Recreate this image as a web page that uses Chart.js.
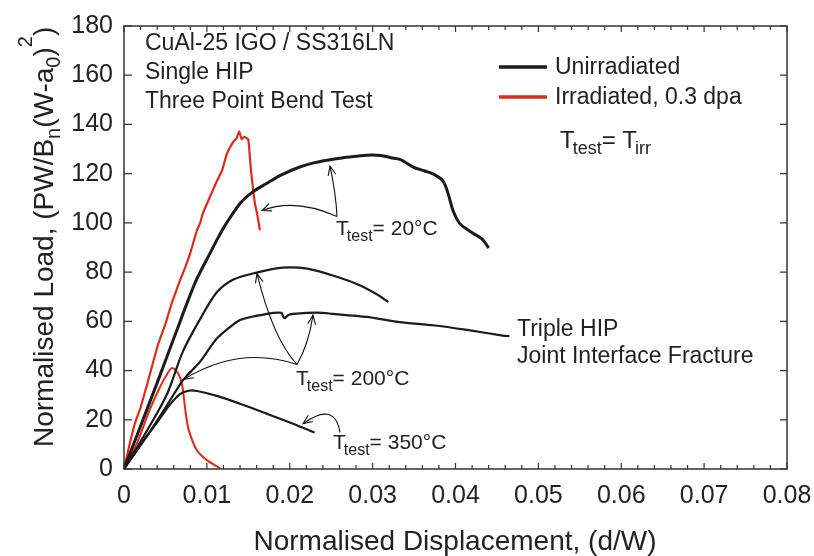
<!DOCTYPE html>
<html>
<head>
<meta charset="utf-8">
<script src="https://cdn.jsdelivr.net/npm/chart.js@4.4.1/dist/chart.umd.min.js"></script>
<style>
  body { margin: 0; background: #fff; }
  canvas { display: block; }
</style>
</head>
<body>
<canvas id="chart" width="814" height="556"></canvas>
<script>
const FONT = '"Liberation Sans", Arial, sans-serif';
const TEXT = '#222';
const BLACK = '#1b1b1b';
const RED = '#dd2a1b';

// Unirradiated, T = 20°C (thick black)
const u20Disp = [0, 0.002, 0.004, 0.006, 0.0086, 0.0104, 0.0112, 0.0122, 0.014, 0.0155, 0.0172, 0.019, 0.0212, 0.023, 0.0252, 0.0272, 0.0293, 0.031, 0.0322, 0.0333, 0.0349, 0.0362, 0.0373, 0.0385, 0.0391, 0.0397, 0.0405, 0.0421, 0.0432, 0.044];
const u20Load = [0, 17.5, 35, 53, 75.8, 87.8, 93, 99, 107.9, 112.5, 116, 119.5, 122.7, 124.5, 125.9, 126.8, 127.5, 127.4, 126.5, 125.8, 122.7, 121.2, 119.9, 117, 112, 105, 99.8, 95.8, 93.5, 89.8];

// Unirradiated, T = 200°C, upper curve
const u200aDisp = [0, 0.0031, 0.0052, 0.0071, 0.0092, 0.0112, 0.0132, 0.016, 0.0192, 0.0221, 0.0252, 0.0285, 0.0305, 0.0319];
const u200aLoad = [0, 17.5, 30.5, 47.7, 61, 71.8, 77, 79.8, 81.8, 81.4, 78.6, 74.6, 71, 67.8];

// Unirradiated, T = 200°C, triple HIP curve
const u200bDisp = [0, 0.0031, 0.0052, 0.0071, 0.0092, 0.0112, 0.014, 0.0172, 0.019, 0.0192, 0.0194, 0.0198, 0.0204, 0.0233, 0.0253, 0.0293, 0.0333, 0.0373, 0.0414, 0.0457, 0.0465];
const u200bLoad = [0, 15, 26, 36, 43.7, 53, 60.5, 63, 63.5, 62, 61.3, 62.5, 63, 63.5, 63, 61.8, 59.7, 58.4, 56.5, 54.2, 54];

// Unirradiated, T = 350°C
const u350Disp = [0, 0.002, 0.004, 0.0055, 0.0068, 0.0078, 0.0088, 0.0112, 0.014, 0.0172, 0.0204, 0.023];
const u350Load = [0, 10, 19, 26, 30.5, 31.8, 31.7, 29.7, 26.5, 22.5, 18.4, 14.8];

// Irradiated 0.3 dpa, T = 20°C
const i20Disp = [0, 0.0007, 0.0013, 0.002, 0.0028, 0.0034, 0.0041, 0.005, 0.0058, 0.0068, 0.0074, 0.008, 0.0088, 0.0092, 0.0095, 0.0103, 0.0112, 0.0118, 0.0124, 0.0132, 0.0136, 0.0139, 0.0142, 0.0145, 0.015, 0.0153, 0.0156, 0.0158, 0.0161, 0.0164];
const i20Load = [0, 10.4, 18.4, 25, 34.5, 42, 50.5, 59, 67.8, 77, 82, 87.8, 97, 100, 103.8, 110, 117, 121, 127.9, 133, 134.5, 137.2, 134, 135, 133.9, 122, 113, 107.9, 103, 97];

// Irradiated 0.3 dpa, T = 200°C
const i200Disp = [0, 0.0015, 0.0031, 0.0043, 0.0052, 0.0058, 0.0065, 0.007, 0.0074, 0.0078, 0.0088, 0.01, 0.0116];
const i200Load = [0, 10, 24, 33, 38.5, 41, 39, 34.5, 24, 16, 7.6, 3.6, 0.3];

const legendLabels = ['Unirradiated', 'Irradiated, 0.3 dpa'];
const noteLines = ['CuAl-25 IGO / SS316LN', 'Single HIP', 'Three Point Bend Test'];
const tripleLines = ['Triple HIP', 'Joint Interface Fracture'];

// arrows: start, control, end in data units
const arrows = [
  [[0.0257, 102.6], [0.0206, 110.2], [0.01665, 105.0]],
  [[0.0257, 102.6], [0.02558, 111.8], [0.02486, 123.1]],
  [[0.02087, 42.5], [0.01798, 52.9], [0.01605, 79.4]],
  [[0.02087, 42.5], [0.02232, 50.9], [0.0228, 62.5]],
  [[0.02087, 42.5], [0.01394, 50.3], [0.00724, 36.5]],
  [[0.02606, 14.8], [0.02546, 27.7], [0.0216, 18.4]]
];

function toPoints(xs, ys) {
  return xs.map((x, i) => ({ x: x, y: ys[i] }));
}

function series(xs, ys, color, width, tension) {
  return {
    data: toPoints(xs, ys),
    borderColor: color,
    borderWidth: width,
    showLine: true,
    pointRadius: 0,
    tension: tension,
    fill: false
  };
}

function drawTtest(ctx, x, y, rest, size) {
  ctx.font = size + 'px ' + FONT;
  ctx.fillText('T', x, y);
  x += ctx.measureText('T').width - 2;
  ctx.font = Math.round(size * 0.75) + 'px ' + FONT;
  ctx.fillText('test', x, y + 6);
  x += ctx.measureText('test').width;
  ctx.font = size + 'px ' + FONT;
  ctx.fillText(rest, x, y);
  return x + ctx.measureText(rest).width;
}

const decorPlugin = {
  id: 'decor',
  afterDatasetsDraw(chart) {
    const ctx = chart.ctx;
    const xs = chart.scales.x;
    const ys = chart.scales.y;
    const a = chart.chartArea;

    ctx.save();
    // frame
    ctx.strokeStyle = '#333';
    ctx.lineWidth = 1.5;
    ctx.strokeRect(a.left, a.top, a.right - a.left, a.bottom - a.top);

    // ticks, all pointing inwards
    ctx.lineWidth = 1.2;
    ctx.beginPath();
    for (let i = 0; i <= 40; i++) {
      const px = xs.getPixelForValue(i * 0.002);
      const len = i % 5 === 0 ? 6 : 4;
      ctx.moveTo(px, a.bottom); ctx.lineTo(px, a.bottom - len);
      ctx.moveTo(px, a.top); ctx.lineTo(px, a.top + len);
    }
    for (let v = 0; v <= 180; v += 20) {
      const py = ys.getPixelForValue(v);
      ctx.moveTo(a.left, py); ctx.lineTo(a.left + 8, py);
      ctx.moveTo(a.right, py); ctx.lineTo(a.right - 7, py);
    }
    ctx.stroke();

    // arrows
    ctx.strokeStyle = '#111';
    ctx.lineWidth = 1.1;
    arrows.forEach(arr => {
      const p = arr.map(q => [xs.getPixelForValue(q[0]), ys.getPixelForValue(q[1])]);
      ctx.beginPath();
      ctx.moveTo(p[0][0], p[0][1]);
      ctx.quadraticCurveTo(p[1][0], p[1][1], p[2][0], p[2][1]);
      ctx.stroke();
      const ang = Math.atan2(p[2][1] - p[1][1], p[2][0] - p[1][0]);
      ctx.beginPath();
      ctx.moveTo(p[2][0] - 10 * Math.cos(ang - 0.4), p[2][1] - 10 * Math.sin(ang - 0.4));
      ctx.lineTo(p[2][0], p[2][1]);
      ctx.lineTo(p[2][0] - 10 * Math.cos(ang + 0.4), p[2][1] - 10 * Math.sin(ang + 0.4));
      ctx.stroke();
    });

    // texts inside the plot
    ctx.fillStyle = TEXT;
    ctx.textAlign = 'left';
    ctx.textBaseline = 'alphabetic';
    ctx.font = '23px ' + FONT;
    ctx.fillText(noteLines[0], 145, 50);
    ctx.fillText(noteLines[1], 145, 79);
    ctx.fillText(noteLines[2], 145, 108);
    ctx.fillText(tripleLines[0], 517, 336);
    ctx.fillText(tripleLines[1], 517, 363);

    // legend
    const ds = chart.data.datasets;
    [0, 4].forEach((k, i) => {
      const ly = 67 + i * 30;
      ctx.strokeStyle = ds[k].borderColor;
      ctx.lineWidth = 3.5;
      ctx.beginPath();
      ctx.moveTo(499, ly); ctx.lineTo(547, ly);
      ctx.stroke();
      ctx.textBaseline = 'middle';
      ctx.fillText(legendLabels[i], 555, ly + 1);
    });
    ctx.textBaseline = 'alphabetic';

    // T_test = T_irr
    let x = drawTtest(ctx, 560, 148, '= T', 24);
    ctx.font = '18px ' + FONT;
    ctx.fillText('irr', x - 2, 154);

    drawTtest(ctx, 336, 235, '= 20°C', 21);
    drawTtest(ctx, 296, 385, '= 200°C', 21);
    drawTtest(ctx, 333, 449, '= 350°C', 21);
    ctx.restore();
  },
  afterDraw(chart) {
    const ctx = chart.ctx;
    ctx.save();
    ctx.fillStyle = TEXT;
    // x axis title
    ctx.font = '28px ' + FONT;
    ctx.textAlign = 'center';
    ctx.textBaseline = 'alphabetic';
    ctx.fillText('Normalised Displacement, (d/W)', 455, 550);

    // y axis title with sub/superscripts
    ctx.translate(53, 447);
    ctx.rotate(-Math.PI / 2);
    ctx.textAlign = 'left';
    const parts = [
      ['Normalised Load, (PW/B', 28, 0],
      ['n', 20, 7],
      ['(W-a', 28, 0],
      ['0', 20, 7],
      [')', 28, 0],
      ['2', 20, -21],
      [')', 28, 0]
    ];
    let px = 0;
    parts.forEach(p => {
      ctx.font = p[1] + 'px ' + FONT;
      ctx.fillText(p[0], px, p[2]);
      px += ctx.measureText(p[0]).width;
    });
    ctx.restore();
  }
};

new Chart(document.getElementById('chart'), {
  type: 'scatter',
  data: {
    datasets: [
      series(u20Disp, u20Load, BLACK, 3, 0.3),
      series(u200aDisp, u200aLoad, BLACK, 2.2, 0.3),
      series(u200bDisp, u200bLoad, BLACK, 2.2, 0.2),
      series(u350Disp, u350Load, BLACK, 2.2, 0.3),
      series(i20Disp, i20Load, RED, 2.2, 0.1),
      series(i200Disp, i200Load, RED, 2, 0.3)
    ]
  },
  options: {
    responsive: false,
    animation: false,
    layout: { padding: { top: 20, right: 27, left: 0, bottom: 0 } },
    plugins: {
      legend: { display: false },
      tooltip: { enabled: false }
    },
    scales: {
      x: {
        type: 'linear',
        min: 0,
        max: 0.08,
        grid: { display: false, drawTicks: false },
        border: { display: false },
        ticks: {
          stepSize: 0.01,
          padding: 12,
          color: TEXT,
          maxRotation: 0,
          font: { size: 25, family: FONT },
          callback: v => v === 0 ? '0' : String(Math.round(v * 100) / 100)
        },
        afterFit: s => { s.height = 87; s.paddingRight = 0; }
      },
      y: {
        min: 0,
        max: 180,
        grid: { display: false, drawTicks: false },
        border: { display: false },
        ticks: {
          stepSize: 20,
          padding: 11,
          color: TEXT,
          font: { size: 25, family: FONT }
        },
        afterFit: s => { s.width = 124; }
      }
    }
  },
  plugins: [decorPlugin]
});
</script>
</body>
</html>
